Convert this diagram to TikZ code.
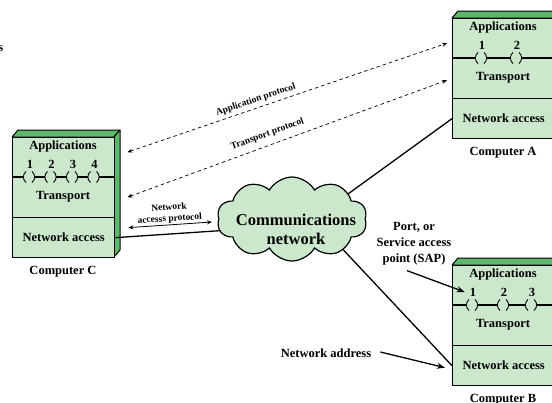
\documentclass[tikz,border=0pt]{standalone}
\usepackage{fontspec}
\setmainfont{Liberation Serif}
\usetikzlibrary{shapes.symbols,arrows.meta,calc}
\definecolor{facegreen}{HTML}{CCE8CC}
\definecolor{rimgreen}{HTML}{5DB86A}
\tikzset{
  rim/.style={draw=black, fill=rimgreen, line width=1pt, line join=round},
  front/.style={draw=black, fill=facegreen, line width=1.3pt, minimum width=102pt, inner sep=0pt},
  region/.style={minimum width=102pt, minimum height=40pt, inner sep=0pt},
  boxtext/.style={font=\fontsize{12.5}{14}\selectfont\bfseries, inner sep=0pt},
  smalltext/.style={font=\fontsize{9.5}{11.5}\selectfont\bfseries},
  bigtext/.style={font=\fontsize{16.5}{19}\selectfont\bfseries, align=center, inner sep=0pt},
  link/.style={draw=black, line width=1.3pt},
  tipsmall/.tip={Stealth[length=5pt, width=4pt]},
  protocol/.style={draw=black, line width=0.7pt, dash pattern=on 3.5pt off 3pt, tipsmall-tipsmall},
  pointer/.style={draw=black, line width=1.3pt, -{Stealth[length=8pt, width=6pt]}},
}
% One cabinet: #1 name, #2/#3 top-left corner of the front face,
% #4 caption letter, #5 port positions measured from the left edge
\newcommand\drawcomputer[5]{%
\begin{scope}[shift={(#2,#3)}]
  \filldraw[rim] (0,0) -- (6,-7) -- (108,-7) -- (102,0) -- cycle;
  \filldraw[rim] (102,0) -- (108,-7) -- (108,113) -- (102,120) -- cycle;
  \node[front, minimum height=120pt, anchor=north west] (#1) at (0,0) {};
  \node[front, minimum height=40pt, anchor=north west, boxtext] (#1net) at (0,80) {Network access};
  \path node[region, anchor=north west] (#1app) at (0,0) {}
        node[region, anchor=north west] (#1tr) at (0,40) {};
  \node[boxtext] (#1apptext) at (51,9) {Applications};
  \node[boxtext] (#1trtext) at (51,60) {Transport};
  \node[boxtext] (#1cap) at (51,135) {Computer #4};
  \draw[line width=1.1pt] (0,40) -- (102,40);
  \foreach \p [count=\k] in {#5} {
    \fill[facegreen] ({\p-5.4},37) rectangle ({\p+5.4},43);
    \draw[line width=0.9pt] ({\p-3},34.5) .. controls ({\p-6.5},37.5) and ({\p-6.5},42.5) .. ({\p-3},45.5);
    \draw[line width=0.9pt] ({\p+3},34.5) .. controls ({\p+6.5},37.5) and ({\p+6.5},42.5) .. ({\p+3},45.5);
    \node[boxtext] (#1n\k) at ({\p+1},27) {\k};
  }
\end{scope}}

\begin{document}
\begin{tikzpicture}[x=1pt, y=-1pt]
  \useasboundingbox (0,0) rectangle (552,402);

  \node[boxtext, anchor=base east] (edgeglyph) at (3.5,51) {s};

  \drawcomputer{C}{12}{137}{C}{17,38.5,60,81.5}
  \drawcomputer{A}{452}{18}{A}{29,64}
  \drawcomputer{B}{452}{265}{B}{20,51,79}

  % links into the network (their inner ends are hidden under the cloud)
  \coordinate (cc) at (292,219);
  \draw[link] (Cnet.east) -- ($(cc)+(-47,10)$);
  \draw[link] (Anet.west) -- ($(cc)+(38,-12)$);
  \draw[link] (Bnet.west) -- ($(cc)+(28,6)$);

  \node[cloud, cloud puffs=10, cloud puff arc=120, aspect=1.76, draw=black,
        line width=1.2pt, fill=facegreen, minimum width=150pt, minimum height=84pt,
        inner sep=0pt] (net) at (cc) {};
  \node[bigtext] (nettext) at ($(net.center)+(4,10)$) {Communications\\network};

  % peer protocols
  \draw[protocol] ($(Capp.east)+(13,-5)$) --
    node[smalltext, sloped, above=0pt, pos=0.41] (applabel) {Application protocol}
    ($(Aapp.west)+(-5,5)$);
  \draw[protocol] ($(Ctr.east)+(13,0)$) --
    node[smalltext, sloped, above=3pt, pos=0.45] (trlabel) {Transport protocol}
    ($(Atr.west)+(-5,2)$);
  \draw[draw=black, line width=0.8pt, tipsmall-tipsmall] ($(Cnet.east)+(13,-10)$) --
    node[smalltext, sloped, above=0pt, inner sep=1pt, align=center] (nalabel) {Network\\accesss protocol}
    ($(cc)+(-80,3)$);

  % annotations
  \node[boxtext, align=center, font=\fontsize{12.5}{16}\selectfont\bfseries] (sap) at (414,244)
    {Port, or\\Service access\\point (SAP)};
  \draw[pointer] ($(sap.south)+(-7,5)$) -- ($(Bn1.west)+(-5,0)$);
  \node[boxtext] (addr) at (326,353) {Network address};
  \draw[pointer] ($(addr.east)+(9,-1)$) -- ($(Bnet.west)+(-7,2)$);
\end{tikzpicture}
\end{document}
